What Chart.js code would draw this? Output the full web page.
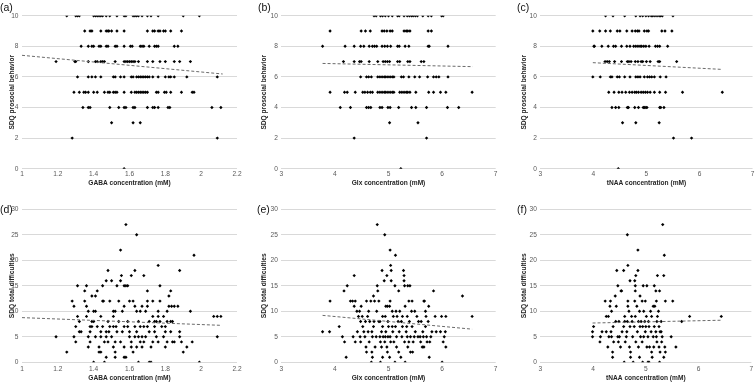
<!DOCTYPE html>
<html><head><meta charset="utf-8">
<script src="https://cdn.jsdelivr.net/npm/chart.js@4/dist/chart.umd.min.js"></script>
<style>
html,body{margin:0;padding:0;background:#fff;}
#wrap{position:relative;width:756px;height:382px;overflow:hidden;background:#fff;}
canvas{position:absolute;}
.lab{position:absolute;font-family:"Liberation Sans",Arial,sans-serif;font-size:10.5px;line-height:10px;color:#111;}
</style></head><body>
<div id="wrap">
<canvas id="ca" width="252" height="191" style="left:0;top:0"></canvas>
<canvas id="cb" width="252" height="191" style="left:252px;top:0"></canvas>
<canvas id="cc" width="252" height="191" style="left:504px;top:0"></canvas>
<canvas id="cd" width="252" height="191" style="left:0;top:191px"></canvas>
<canvas id="ce" width="252" height="191" style="left:252px;top:191px"></canvas>
<canvas id="cf" width="252" height="191" style="left:504px;top:191px"></canvas>
<div class="lab" style="left:0px;top:2px">(a)</div>
<div class="lab" style="left:258px;top:2px">(b)</div>
<div class="lab" style="left:517px;top:2px">(c)</div>
<div class="lab" style="left:0px;top:204px">(d)</div>
<div class="lab" style="left:257px;top:204px">(e)</div>
<div class="lab" style="left:517px;top:204px">(f)</div>
</div>
<script>
// ---------- DATA ----------
const prosocialLevels = [10, 9, 8, 7, 6, 5, 4, 3, 2, 0];

const gabaByProsocial = [
  [1.25,1.30,1.31,1.32,1.40,1.41,1.42,1.43,1.44,1.45,1.47,1.49,1.53,1.57,1.58,1.62,1.63,1.64,1.65,1.67,1.70,1.72,1.76,1.90,1.99],
  [1.35,1.38,1.39,1.44,1.47,1.48,1.485,1.50,1.53,1.57,1.70,1.73,1.74,1.76,1.77,1.79,1.80,1.83,1.89],
  [1.33,1.37,1.39,1.40,1.43,1.44,1.47,1.48,1.52,1.53,1.57,1.605,1.615,1.66,1.67,1.68,1.71,1.74,1.75,1.76,1.85,1.87],
  [1.19,1.295,1.30,1.37,1.41,1.42,1.44,1.45,1.46,1.52,1.57,1.58,1.59,1.60,1.61,1.62,1.63,1.65,1.70,1.73,1.77,1.80,1.85,1.88,1.94],
  [1.31,1.37,1.39,1.41,1.44,1.51,1.52,1.55,1.57,1.61,1.62,1.64,1.65,1.66,1.67,1.68,1.69,1.70,1.71,1.73,1.76,1.80,1.82,1.83,1.85,1.92,2.09],
  [1.29,1.32,1.345,1.355,1.37,1.40,1.42,1.46,1.48,1.49,1.51,1.52,1.53,1.57,1.61,1.63,1.64,1.65,1.66,1.67,1.68,1.69,1.70,1.75,1.76,1.795,1.805,1.83,1.89,1.95,1.96],
  [1.34,1.37,1.38,1.49,1.54,1.57,1.58,1.62,1.63,1.70,1.73,1.74,1.76,1.815,1.825,2.06,2.11],
  [1.50,1.62,1.66],
  [1.28,2.09],
  [1.57]
];

const glxByProsocial = [
  [4.73,4.77,4.85,4.89,4.94,5.00,5.07,5.17,5.20,5.29,5.35,5.39,5.43,5.46,5.50,5.54,5.64,5.74,5.80,5.99,6.02],
  [3.91,4.49,4.57,4.66,4.88,4.92,4.97,5.03,5.07,5.29,5.33,5.36,5.40,5.74,5.80],
  [3.77,4.19,4.36,4.48,4.54,4.64,4.70,4.74,4.78,4.88,4.93,4.98,5.04,5.17,5.20,5.31,5.38,5.74,5.76,6.11],
  [4.16,4.36,4.46,4.49,4.64,4.80,4.90,4.94,4.98,5.02,5.17,5.21,5.36,5.40,5.61,5.66],
  [4.48,4.59,4.63,4.68,4.80,4.84,4.88,4.92,4.95,4.99,5.03,5.07,5.10,5.24,5.28,5.38,5.49,5.58,5.73,5.84,5.89,5.94,6.11],
  [3.91,4.18,4.23,4.38,4.52,4.56,4.61,4.66,4.70,4.80,4.84,4.88,4.92,4.95,4.99,5.03,5.07,5.10,5.21,5.25,5.29,5.33,5.36,5.40,5.51,5.75,5.84,5.97,6.07,6.56],
  [4.10,4.29,4.59,4.63,4.67,4.84,4.88,4.99,5.03,5.19,5.43,5.51,5.71,6.10,6.31],
  [5.02,5.55],
  [4.36,5.71],
  [5.23]
];

const tnaaByProsocial = [
  [4.23,4.37,4.59,4.80,4.88,4.93,4.99,5.04,5.09,5.12,5.16,5.20,5.24,5.27,5.30,5.50],
  [3.99,4.12,4.23,4.32,4.45,4.50,4.63,4.73,4.79,4.83,4.86,4.96,5.01,5.04,5.29,5.35,5.48],
  [4.01,4.02,4.16,4.28,4.38,4.42,4.53,4.63,4.69,4.76,4.80,4.84,4.88,4.91,4.95,4.99,5.05,5.17,5.21,5.25,5.40],
  [4.22,4.26,4.30,4.40,4.53,4.64,4.67,4.71,4.79,4.84,4.90,4.93,5.00,5.07,5.22,5.25,5.57],
  [3.99,4.13,4.32,4.35,4.45,4.49,4.59,4.69,4.80,4.84,4.88,4.96,5.02,5.06,5.10,5.15,5.26,5.37],
  [4.29,4.39,4.48,4.54,4.61,4.68,4.73,4.78,4.81,4.85,4.90,4.94,4.98,5.02,5.07,5.15,5.25,5.36,5.68,6.43],
  [4.35,4.42,4.48,4.64,4.66,4.78,4.85,4.94,4.96,4.99,5.01,5.25,5.27,5.33],
  [4.55,4.80,5.24],
  [5.51,5.85],
  [4.47]
];

const gabaVsTotal = [
  [1.19,5],[1.25,2],[1.28,12],[1.29,11],[1.30,7],[1.29,5],[1.30,4],[1.31,15],[1.31,9],[1.32,8],[1.32,6],[1.33,6],
  [1.35,12],[1.35,14],[1.36,15],[1.36,11],[1.37,10],[1.36,9],[1.37,5],[1.37,3],[1.38,4],[1.38,7],[1.39,7],[1.39,13],
  [1.38,6],[1.39,8],[1.40,10],[1.40,0],[1.40,8],[1.41,10],[1.41,5],[1.42,7],[1.41,13],[1.42,14],[1.43,3],[1.43,2],
  [1.44,2],[1.44,5],[1.44,9],[1.45,15],[1.45,12],[1.455,12],[1.45,7],[1.44,6],[1.46,4],[1.47,1],[1.47,6],[1.47,5],
  [1.46,0],[1.47,16],[1.48,18],[1.48,8],[1.48,4],[1.485,6],[1.49,12],[1.49,7],[1.50,5],[1.50,16],[1.51,7],[1.51,9],
  [1.51,10],[1.51,3],[1.52,1],[1.52,4],[1.52,10],[1.525,7],[1.52,2],[1.53,15],[1.53,6],[1.54,12],[1.54,8],[1.55,16],
  [1.55,22],[1.555,17],[1.55,4],[1.56,6],[1.56,10],[1.57,11],[1.57,7],[1.57,3],[1.57,1],[1.57,15],[1.58,27],[1.58,15],
  [1.58,1],[1.59,15],[1.59,7],[1.59,8],[1.60,5],[1.60,12],[1.60,6],[1.61,3],[1.61,4],[1.61,17],[1.62,2],[1.62,12],
  [1.63,7],[1.63,5],[1.63,11],[1.63,18],[1.64,10],[1.64,25],[1.64,6],[1.64,3],[1.65,0],[1.65,8],[1.65,5],[1.66,10],
  [1.66,7],[1.66,4],[1.67,11],[1.67,5],[1.67,3],[1.68,17],[1.68,7],[1.68,4],[1.69,5],[1.69,10],[1.70,14],[1.70,12],
  [1.70,11],[1.70,7],[1.71,6],[1.71,0],[1.71,8],[1.72,3],[1.72,0],[1.73,4],[1.73,9],[1.73,12],[1.74,8],[1.74,6],
  [1.74,7],[1.75,5],[1.75,8],[1.76,10],[1.76,9],[1.76,4],[1.76,19],[1.77,15],[1.77,12],[1.77,8],[1.78,7],[1.79,5],
  [1.79,9],[1.80,3],[1.80,6],[1.80,7],[1.81,10],[1.81,8],[1.81,4],[1.82,11],[1.82,13],[1.83,6],[1.83,14],[1.83,8],
  [1.835,11],[1.84,4],[1.84,8],[1.85,11],[1.85,4],[1.87,11],[1.88,18],[1.88,5],[1.88,6],[1.89,4],[1.90,2],[1.92,3],
  [1.94,10],[1.95,4],[1.96,21],[1.99,0],[2.07,9],[2.09,5],[2.09,9],[2.11,9]
];

const glxVsTotal = [
  [3.77,6],[3.90,6],[3.91,12],[4.08,7],[4.14,5],[4.17,14],[4.23,15],[4.18,4],[4.21,1],[4.29,12],[4.33,12],[4.34,5],
  [4.36,17],[4.36,11],[4.38,4],[4.38,12],[4.41,10],[4.42,6],[4.44,9],[4.46,10],[4.47,5],[4.48,8],[4.48,4],[4.49,11],
  [4.51,9],[4.52,7],[4.54,6],[4.56,5],[4.57,8],[4.58,3],[4.59,2],[4.59,12],[4.61,9],[4.62,6],[4.63,10],[4.64,4],
  [4.65,8],[4.67,12],[4.68,0],[4.69,6],[4.69,2],[4.70,5],[4.70,1],[4.72,7],[4.72,13],[4.73,8],[4.74,12],[4.75,3],
  [4.77,5],[4.78,10],[4.79,27],[4.79,15],[4.80,14],[4.82,12],[4.82,8],[4.84,8],[4.84,5],[4.85,4],[4.85,0],[4.87,3],
  [4.87,6],[4.88,18],[4.89,9],[4.89,7],[4.89,1],[4.90,5],[4.92,16],[4.93,4],[4.93,25],[4.94,9],[4.94,5],[4.95,11],
  [4.95,6],[4.97,3],[4.97,17],[4.98,2],[4.98,11],[4.99,8],[4.99,5],[5.00,7],[5.02,1],[5.02,11],[5.03,12],[5.03,22],
  [5.03,5],[5.04,19],[5.04,4],[5.05,16],[5.05,18],[5.07,10],[5.07,7],[5.08,6],[5.09,9],[5.10,4],[5.12,15],[5.12,0],
  [5.13,21],[5.13,7],[5.14,10],[5.15,3],[5.15,5],[5.16,9],[5.18,8],[5.19,2],[5.19,14],[5.20,6],[5.21,10],[5.23,1],
  [5.24,8],[5.25,5],[5.26,9],[5.26,7],[5.28,18],[5.29,17],[5.29,16],[5.30,4],[5.30,15],[5.31,0],[5.31,11],[5.33,6],
  [5.34,7],[5.35,9],[5.35,5],[5.36,15],[5.36,3],[5.38,12],[5.38,4],[5.39,8],[5.40,15],[5.41,2],[5.41,5],[5.43,10],
  [5.44,7],[5.44,12],[5.45,2],[5.46,4],[5.48,5],[5.49,10],[5.50,6],[5.53,9],[5.55,5],[5.56,8],[5.59,5],[5.60,4],
  [5.61,8],[5.63,3],[5.64,6],[5.65,5],[5.66,12],[5.66,3],[5.67,12],[5.69,10],[5.69,7],[5.70,9],[5.71,5],[5.72,4],
  [5.74,8],[5.75,11],[5.76,1],[5.77,4],[5.79,5],[5.81,6],[5.84,14],[5.87,9],[5.89,6],[5.97,6],[5.99,9],[6.00,0],
  [6.02,4],[6.04,5],[6.06,6],[6.07,3],[6.07,9],[6.38,13],[6.56,9]
];

const tnaaVsTotal = [
  [3.99,5],[3.99,6],[4.01,7],[4.13,4],[4.14,5],[4.17,6],[4.23,12],[4.25,6],[4.25,9],[4.28,3],[4.29,9],[4.30,5],
  [4.32,11],[4.33,12],[4.34,6],[4.35,10],[4.35,5],[4.37,2],[4.37,1],[4.38,7],[4.39,4],[4.42,13],[4.43,8],[4.44,11],
  [4.45,18],[4.47,15],[4.47,5],[4.48,4],[4.49,8],[4.50,5],[4.52,3],[4.53,14],[4.54,14],[4.55,6],[4.58,18],[4.58,7],
  [4.59,0],[4.60,9],[4.60,8],[4.61,4],[4.63,5],[4.64,6],[4.65,25],[4.65,8],[4.66,19],[4.66,12],[4.66,11],[4.68,10],
  [4.69,3],[4.70,16],[4.70,7],[4.71,1],[4.71,2],[4.73,9],[4.74,8],[4.75,5],[4.76,0],[4.78,7],[4.79,12],[4.79,16],
  [4.80,15],[4.80,9],[4.80,14],[4.81,17],[4.81,4],[4.83,11],[4.84,6],[4.85,18],[4.85,22],[4.86,8],[4.86,3],[4.88,10],
  [4.88,1],[4.89,13],[4.89,7],[4.90,5],[4.91,8],[4.93,12],[4.93,4],[4.94,0],[4.94,7],[4.95,15],[4.96,10],[4.96,5],
  [4.98,8],[4.99,12],[4.99,6],[5.00,7],[5.01,9],[5.02,3],[5.02,15],[5.04,5],[5.04,0],[5.05,8],[5.06,0],[5.06,7],
  [5.07,3],[5.09,10],[5.10,6],[5.11,2],[5.11,9],[5.12,1],[5.14,5],[5.14,11],[5.15,3],[5.16,15],[5.16,7],[5.17,11],
  [5.19,6],[5.19,14],[5.20,12],[5.20,5],[5.21,8],[5.21,4],[5.22,9],[5.22,17],[5.24,10],[5.25,3],[5.25,7],[5.26,14],
  [5.26,0],[5.27,6],[5.27,2],[5.29,8],[5.29,6],[5.30,4],[5.31,5],[5.32,27],[5.34,17],[5.34,1],[5.35,21],[5.36,3],
  [5.37,12],[5.37,2],[5.48,5],[5.51,12],[5.57,3],[5.68,8],[5.83,9],[6.43,9]
];

// linear trendlines (start, end) as drawn in the figure
const trendGabaPro  = [[1.00, 7.41], [2.12, 6.19]];
const trendGlxPro   = [[3.77, 6.88], [6.57, 6.67]];
const trendTnaaPro  = [[3.99, 6.93], [6.43, 6.49]];
const trendGabaTot  = [[1.00, 8.76], [2.11, 7.25]];
const trendGlxTot   = [[3.77, 9.20], [6.56, 6.50]];
const trendTnaaTot  = [[3.99, 7.70], [6.43, 8.25]];

// axis ranges [min, max, step]
const gabaAxis = [1, 2.2, 0.2];
const metabAxis = [3, 7, 1];
const prosocialAxis = [0, 10, 2];
const totalAxis = [0, 30, 5];

const xTitles = ['GABA concentration (mM)', 'Glx concentration (mM)', 'tNAA concentration (mM)'];
const yTitles = ['SDQ prosocial behavior', 'SDQ total difficulties'];

// ---------- BUILD ----------
function levelsToPoints(rows) {
  const pts = [];
  rows.forEach((xs, i) => xs.forEach(x => pts.push({x: x, y: prosocialLevels[i]})));
  return pts;
}
function pairsToPoints(pairs) { return pairs.map(p => ({x: p[0], y: p[1]})); }
function fmt(v) { return String(Math.round(v * 10) / 10); }

const FONT = '"Liberation Sans", Arial, sans-serif';
const colLayout = [
  {yW: 22,   padR: 15,  yTitlePad: 8.1},
  {yW: 29.3, padR: 8.3, yTitlePad: 8.5},
  {yW: 36.3, padR: 2,   yTitlePad: 15.8}
];
const rowLayout = [
  {padT: 15.7, xH: 22.3, xTickPad: 1.6, xTitlePad: 3.5},
  {padT: 18.3, xH: 19.7, xTickPad: 2.8, xTitlePad: 0.2}
];

function makeChart(id, col, row, points, trend, xAxis, yAxis, xTitle, yTitle) {
  const C = colLayout[col], R = rowLayout[row];
  new Chart(document.getElementById(id), {
    type: 'scatter',
    data: {
      datasets: [
        {
          data: points,
          pointStyle: 'rectRot',
          pointRadius: 1.7,
          pointHoverRadius: 1.7,
          backgroundColor: '#000',
          borderColor: '#000',
          borderWidth: 0,
          order: 1
        },
        {
          type: 'line',
          data: pairsToPoints(trend),
          showLine: true,
          borderColor: '#6a6a6a',
          borderWidth: 1,
          borderDash: [3, 2],
          pointRadius: 0,
          fill: false,
          order: 0
        }
      ]
    },
    options: {
      responsive: false,
      animation: false,
      events: [],
      layout: {padding: {left: 0, right: C.padR, top: R.padT, bottom: 0}},
      plugins: {legend: {display: false}, tooltip: {enabled: false}},
      scales: {
        x: {
          type: 'linear',
          min: xAxis[0], max: xAxis[1],
          afterFit: s => { s.height = R.xH; },
          grid: {display: false, drawTicks: false},
          border: {display: false},
          ticks: {stepSize: xAxis[2], autoSkip: false, maxRotation: 0, padding: R.xTickPad,
                  color: '#595959', font: {family: FONT, size: 6.6}, callback: fmt},
          title: {display: true, text: xTitle, color: '#262626',
                  font: {family: FONT, size: 6.6, weight: 'bold'},
                  padding: {top: 0, bottom: R.xTitlePad}}
        },
        y: {
          type: 'linear',
          min: yAxis[0], max: yAxis[1],
          afterFit: s => { s.width = C.yW; },
          grid: {color: '#d9d9d9', lineWidth: 1, drawTicks: false},
          border: {display: false},
          ticks: {stepSize: yAxis[2], autoSkip: false, padding: 3.5,
                  color: '#595959', font: {family: FONT, size: 6.6}},
          title: {display: true, text: yTitle, color: '#262626',
                  font: {family: FONT, size: 6.6, weight: 'bold'},
                  padding: {top: C.yTitlePad, bottom: 0}}
        }
      }
    }
  });
}

makeChart('ca', 0, 0, levelsToPoints(gabaByProsocial), trendGabaPro, gabaAxis, prosocialAxis, xTitles[0], yTitles[0]);
makeChart('cb', 1, 0, levelsToPoints(glxByProsocial), trendGlxPro, metabAxis, prosocialAxis, xTitles[1], yTitles[0]);
makeChart('cc', 2, 0, levelsToPoints(tnaaByProsocial), trendTnaaPro, metabAxis, prosocialAxis, xTitles[2], yTitles[0]);
makeChart('cd', 0, 1, pairsToPoints(gabaVsTotal), trendGabaTot, gabaAxis, totalAxis, xTitles[0], yTitles[1]);
makeChart('ce', 1, 1, pairsToPoints(glxVsTotal), trendGlxTot, metabAxis, totalAxis, xTitles[1], yTitles[1]);
makeChart('cf', 2, 1, pairsToPoints(tnaaVsTotal), trendTnaaTot, metabAxis, totalAxis, xTitles[2], yTitles[1]);
</script>
</body></html>
